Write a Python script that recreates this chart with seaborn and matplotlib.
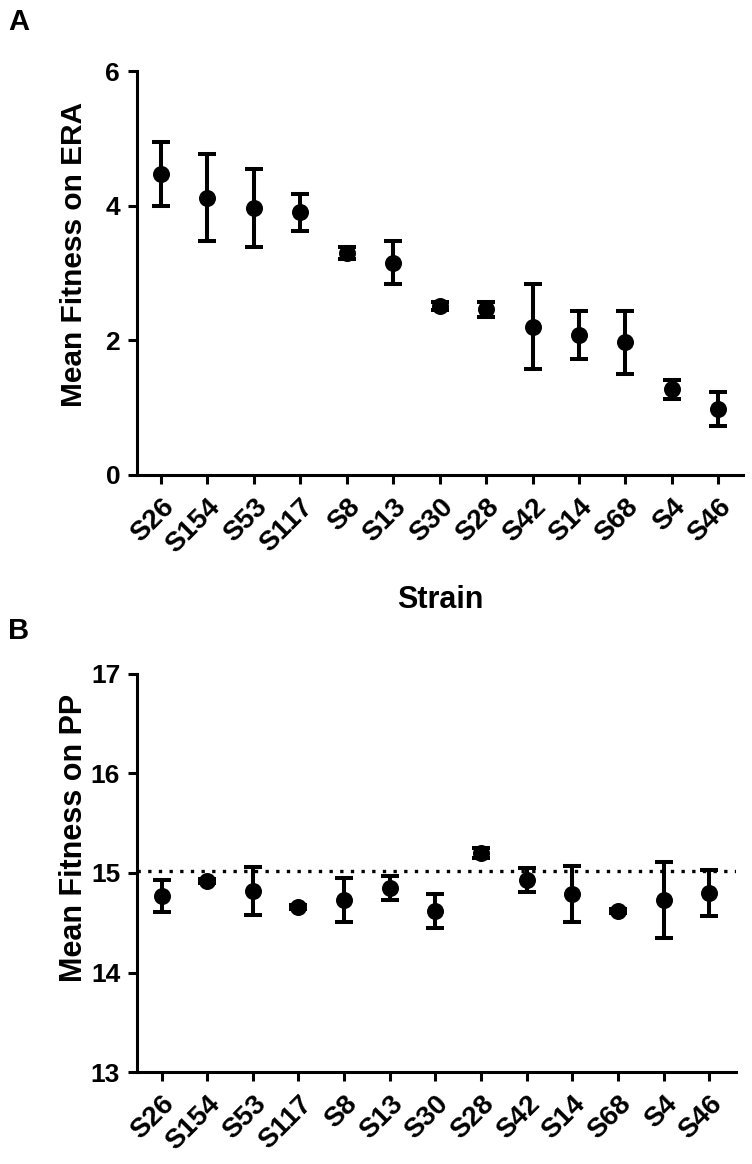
import numpy as np
import matplotlib
matplotlib.use("Agg")
import matplotlib.pyplot as plt
import seaborn as sns

# strains in plotted order
strains = ["S26", "S154", "S53", "S117", "S8", "S13", "S30", "S28", "S42", "S14", "S68", "S4", "S46"]

# panel A: fitness on ERA (mean, error)
era_mean = [4.47, 4.12, 3.97, 3.90, 3.30, 3.15, 2.51, 2.46, 2.20, 2.08, 1.97, 1.27, 0.98]
era_err = [0.47, 0.65, 0.58, 0.27, 0.09, 0.32, 0.06, 0.11, 0.63, 0.36, 0.47, 0.14, 0.25]

# panel B: fitness on PP (mean, error)
pp_mean = [14.77, 14.92, 14.82, 14.66, 14.73, 14.85, 14.62, 15.20, 14.93, 14.79, 14.62, 14.73, 14.80]
pp_err = [0.16, 0.02, 0.24, 0.02, 0.22, 0.12, 0.17, 0.05, 0.12, 0.28, 0.02, 0.38, 0.23]
pp_ref = 15.02

sns.set_style("ticks")
plt.rcParams["font.family"] = ["Liberation Sans", "DejaVu Sans"]
plt.rcParams["font.weight"] = "bold"
plt.rcParams["axes.labelweight"] = "bold"
for key in ["text.color", "axes.labelcolor", "xtick.color", "ytick.color", "axes.edgecolor"]:
    plt.rcParams[key] = "black"

fig = plt.figure(figsize=(7.52, 11.64), dpi=100)
ax_a = fig.add_axes([0.182, 0.592, 0.806, 0.347])
ax_b = fig.add_axes([0.182, 0.079, 0.797, 0.342])


def fitness_panel(ax, means, errs, ylim, yticks, xlim):
    ax.errorbar(strains, means, yerr=errs, fmt="none", ecolor="black",
                elinewidth=2.9, capsize=6.3, capthick=2.9, zorder=2)
    sns.scatterplot(x=strains, y=means, ax=ax, color="black", s=150,
                    linewidth=0, zorder=3)
    ax.set_ylim(*ylim)
    ax.set_yticks(yticks)
    ax.set_xlim(*xlim)
    sns.despine(ax=ax)
    for sp in ["left", "bottom"]:
        ax.spines[sp].set_linewidth(2.2)
    ax.tick_params(axis="both", length=6.5, width=2.2, pad=5.5)
    ax.tick_params(axis="x", labelsize=20, pad=7)
    ax.tick_params(axis="y", labelsize=19)
    plt.setp(ax.get_xticklabels(), rotation=45, ha="right", va="top",
             rotation_mode="anchor", fontweight="bold")
    plt.setp(ax.get_yticklabels(), fontweight="bold")


fitness_panel(ax_a, era_mean, era_err, (0, 6), [0, 2, 4, 6], (-0.517, 12.53))
ax_a.set_ylabel("Mean Fitness on ERA", fontsize=21.5, fontweight="bold")
ax_a.yaxis.set_label_coords(-0.08, 0.545)
ax_a.set_xlabel("Strain", fontsize=22, fontweight="bold")
ax_a.xaxis.set_label_coords(0.5, -0.272)

fitness_panel(ax_b, pp_mean, pp_err, (13, 17), [13, 14, 15, 16, 17], (-0.54, 12.59))
ax_b.axhline(pp_ref, color="black", lw=2.4, ls=(0, (1, 2.2)), zorder=1)
ax_b.set_ylabel("Mean Fitness on PP", fontsize=22, fontweight="bold")
ax_b.yaxis.set_label_coords(-0.08, 0.588)
ax_b.set_xlabel("")

fig.text(8 / 752, 1 - 8 / 1164, "A", fontsize=21, fontweight="bold", va="top", ha="left")
fig.text(8 / 752, 1 - 617 / 1164, "B", fontsize=21, fontweight="bold", va="top", ha="left")

fig.savefig("out.png", dpi=100)
